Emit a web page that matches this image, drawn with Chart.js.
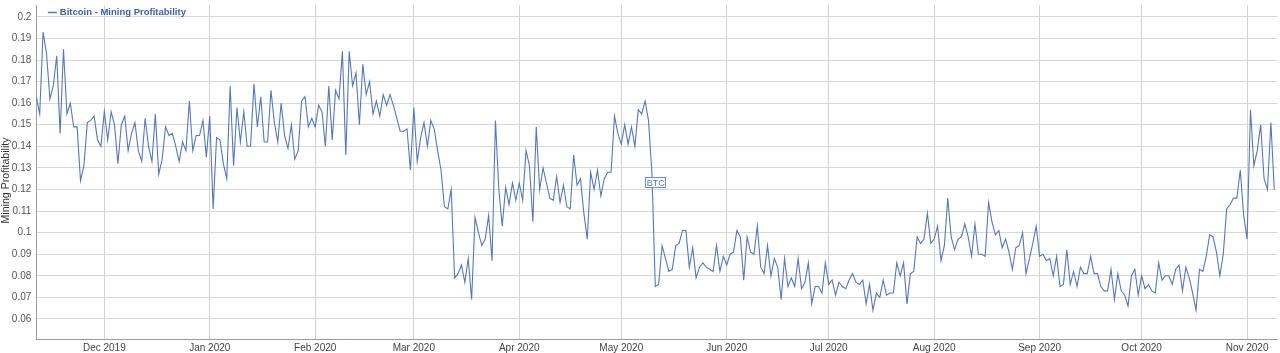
<!DOCTYPE html>
<html>
<head>
<meta charset="utf-8">
<script src="https://cdn.jsdelivr.net/npm/chart.js@4/dist/chart.umd.min.js"></script>
<style>
  html, body { margin: 0; padding: 0; background: #fff; }
  #wrap { width: 1280px; height: 353px; }
</style>
</head>
<body>
<div id="wrap"><canvas id="CHART-PROFIT" width="1280" height="353"></canvas></div>
<script>
// 데이터 시작일 - 이후 하루에 하나씩 값
const startDay = '2019-11-11';

// 일별 채굴 수익성 (BTC)
const profitability = [
  0.163, 0.155, 0.193, 0.183, 0.162, 0.168, 0.182, 0.146, 0.185, 0.155,
  0.160, 0.149, 0.149, 0.124, 0.131, 0.151, 0.152, 0.154, 0.143, 0.140,
  0.156, 0.143, 0.156, 0.150, 0.132, 0.150, 0.154, 0.138, 0.146, 0.151,
  0.138, 0.133, 0.153, 0.140, 0.133, 0.155, 0.127, 0.134, 0.149, 0.145,
  0.146, 0.140, 0.133, 0.142, 0.138, 0.161, 0.138,
  0.145, 0.145, 0.152, 0.135, 0.154, 0.111, 0.144, 0.143, 0.132, 0.125,
  0.168, 0.131, 0.158, 0.142, 0.156, 0.140, 0.140, 0.169, 0.149, 0.163,
  0.142, 0.142, 0.166, 0.151, 0.142, 0.160, 0.145, 0.139, 0.150, 0.134,
  0.138, 0.161, 0.163, 0.149, 0.153, 0.149, 0.159, 0.156, 0.140, 0.168,
  0.143, 0.166, 0.162, 0.184, 0.136, 0.184,
  0.168, 0.174, 0.150, 0.178, 0.164, 0.170, 0.155, 0.161, 0.154, 0.164,
  0.159, 0.164, 0.159, 0.153, 0.147, 0.147, 0.148, 0.129, 0.158, 0.133,
  0.144, 0.151, 0.140, 0.152, 0.148, 0.138, 0.129, 0.112, 0.111, 0.120,
  0.079, 0.081, 0.085, 0.077, 0.088, 0.069, 0.107, 0.100, 0.094, 0.097,
  0.108, 0.087, 0.152, 0.120, 0.103,
  0.121, 0.113, 0.123, 0.115, 0.123, 0.115, 0.138, 0.131, 0.105, 0.149,
  0.120, 0.130, 0.123, 0.116, 0.115, 0.126, 0.114, 0.122, 0.112, 0.111,
  0.136, 0.122, 0.125, 0.109, 0.097, 0.128, 0.120, 0.129, 0.117, 0.125,
  0.128, 0.128, 0.154, 0.146, 0.141, 0.150, 0.141, 0.149, 0.140, 0.157,
  0.155, 0.161, 0.152, 0.128, 0.075,
  0.076, 0.094, 0.088, 0.082, 0.083, 0.094, 0.095, 0.101, 0.101, 0.084,
  0.093, 0.079, 0.084, 0.086, 0.084, 0.083, 0.082, 0.094, 0.082, 0.089,
  0.085, 0.090, 0.091, 0.101, 0.098, 0.078, 0.098, 0.091, 0.090, 0.103,
  0.084, 0.081, 0.094, 0.080, 0.088, 0.084, 0.069, 0.088, 0.075, 0.079,
  0.075, 0.088, 0.074, 0.077, 0.086, 0.067,
  0.075, 0.075, 0.072, 0.086, 0.076, 0.078, 0.071, 0.077, 0.075, 0.074,
  0.078, 0.081, 0.077, 0.076, 0.078, 0.067, 0.076, 0.064, 0.072, 0.070,
  0.078, 0.071, 0.072, 0.072, 0.086, 0.080, 0.086, 0.067, 0.081, 0.082,
  0.098, 0.095, 0.097, 0.109, 0.095, 0.097, 0.103, 0.087, 0.094, 0.116,
  0.098, 0.092, 0.097, 0.098, 0.104, 0.098,
  0.089, 0.104, 0.090, 0.090, 0.089, 0.114, 0.105, 0.099, 0.101, 0.093,
  0.097, 0.091, 0.083, 0.093, 0.094, 0.100, 0.081, 0.088, 0.095, 0.103,
  0.089, 0.090, 0.087, 0.088, 0.080, 0.089, 0.075, 0.076, 0.092, 0.076,
  0.082, 0.075, 0.084, 0.081, 0.081, 0.089, 0.081, 0.081, 0.075, 0.073,
  0.073, 0.083, 0.069, 0.081,
  0.073, 0.071, 0.066, 0.080, 0.083, 0.071, 0.080, 0.074, 0.076, 0.073,
  0.072, 0.086, 0.078, 0.080, 0.080, 0.076, 0.083, 0.085, 0.073, 0.084,
  0.079, 0.072, 0.064, 0.083, 0.082, 0.089, 0.099, 0.098, 0.091, 0.080,
  0.090, 0.111, 0.113, 0.116, 0.116, 0.129, 0.108, 0.097, 0.157, 0.131,
  0.138, 0.150, 0.125, 0.120, 0.151, 0.120
];

// x축 월 눈금
const monthTicks = [
  '2019-12-01', '2020-01-01', '2020-02-01', '2020-03-01', '2020-04-01', '2020-05-01',
  '2020-06-01', '2020-07-01', '2020-08-01', '2020-09-01', '2020-10-01', '2020-11-01'
];
const monthLabels = [
  'Dec 2019', 'Jan 2020', 'Feb 2020', 'Mar 2020', 'Apr 2020', 'May 2020',
  'Jun 2020', 'Jul 2020', 'Aug 2020', 'Sep 2020', 'Oct 2020', 'Nov 2020'
];

// y축 눈금
const yTicks = [0.06, 0.07, 0.08, 0.09, 0.1, 0.11, 0.12, 0.13, 0.14, 0.15, 0.16, 0.17, 0.18, 0.19, 0.2];

// 반감기 플래그
const flags = [{ date: '2020-05-11', value: 0.1233, text: 'BTC' }];

const yTitle = 'Mining Profitability';
const lineColor = '#5677b9';
const fontFamily = '"Liberation Sans", Arial, sans-serif';

// 시작일 기준 경과 일수
const dayOf = (d) => Math.round((Date.parse(d) - Date.parse(startDay)) / 86400000);

// 차트 안쪽 왼쪽 위 범례 + y축 제목
const legendPlugin = {
  id: 'legendInside',
  afterDraw(chart) {
    const { ctx, chartArea } = chart;
    const x = chartArea.left + 11.5;
    const y = chartArea.top + 7.5;
    ctx.save();
    ctx.strokeStyle = lineColor;
    ctx.lineWidth = 1.5;
    ctx.beginPath();
    ctx.moveTo(x, y);
    ctx.lineTo(x + 9, y);
    ctx.stroke();
    ctx.font = 'bold 9.5px ' + fontFamily;
    ctx.fillStyle = '#3e5fad';
    ctx.textBaseline = 'middle';
    ctx.fillText(chart.data.datasets[0].label, x + 12, y);

    // y축 제목 (세로)
    ctx.translate(6.5, (chartArea.top + chartArea.bottom) / 2 + 8.5);
    ctx.rotate(-Math.PI / 2);
    ctx.font = '10.6px ' + fontFamily;
    ctx.fillStyle = '#333';
    ctx.textAlign = 'center';
    ctx.textBaseline = 'middle';
    ctx.fillText(yTitle, 0, 0);
    ctx.restore();
  }
};

// 플래그 박스 (BTC)
const flagPlugin = {
  id: 'flags',
  afterDatasetsDraw(chart) {
    const { ctx, scales } = chart;
    ctx.save();
    flags.forEach((f) => {
      const cx = scales.x.getPixelForValue(dayOf(f.date));
      const cy = scales.y.getPixelForValue(f.value);
      const w = 20, h = 10;
      ctx.fillStyle = '#ffffff';
      ctx.fillRect(cx - w / 2, cy - h / 2, w, h);
      ctx.strokeStyle = '#6f8ec6';
      ctx.lineWidth = 1;
      ctx.strokeRect(Math.round(cx - w / 2) + 0.5, Math.round(cy - h / 2) + 0.5, w, h);
      ctx.font = '9px ' + fontFamily;
      ctx.fillStyle = '#5a7bbb';
      ctx.textAlign = 'center';
      ctx.textBaseline = 'middle';
      ctx.fillText(f.text, cx + 0.5, cy + 1);
    });
    ctx.restore();
  }
};

const profitChart = new Chart(document.getElementById('CHART-PROFIT'), {
  type: 'line',
  data: {
    datasets: [{
      label: 'Bitcoin - Mining Profitability',
      data: profitability.map((v, i) => ({ x: i, y: v })),
      borderColor: lineColor,
      borderWidth: 1.1,
      pointRadius: 0,
      fill: false,
      tension: 0
    }]
  },
  options: {
    responsive: false,
    animation: false,
    events: [],
    layout: { padding: { top: 5, right: 3, left: 0, bottom: 0 } },
    plugins: {
      legend: { display: false },
      tooltip: { enabled: false }
    },
    scales: {
      x: {
        type: 'linear',
        min: 0,
        max: 364.8,
        afterBuildTicks(scale) {
          scale.ticks = monthTicks.map((d) => ({ value: dayOf(d) }));
        },
        afterFit(scale) {
          scale.height = 14;
          scale.paddingLeft = 0;
          scale.paddingRight = 0;
        },
        grid: { color: '#d2d2d2', drawTicks: false },
        border: { display: true, color: '#9a9a9a' },
        ticks: {
          autoSkip: false,
          maxRotation: 0,
          padding: 3,
          color: '#444',
          font: { family: fontFamily, size: 10 },
          callback: (v, i) => monthLabels[i]
        }
      },
      y: {
        min: 0.0507,
        max: 0.2055,
        afterBuildTicks(scale) {
          scale.ticks = yTicks.map((v) => ({ value: v }));
        },
        afterFit(scale) {
          scale.width = 36.3;
          scale.paddingTop = 0;
          scale.paddingBottom = 0;
        },
        grid: { color: '#d8d8d8', drawTicks: false },
        border: { display: true, color: '#9a9a9a' },
        ticks: {
          padding: 5,
          color: '#555',
          font: { family: fontFamily, size: 10 },
          callback: (v) => String(v)
        }
      }
    }
  },
  plugins: [legendPlugin, flagPlugin]
});
</script>
</body>
</html>
